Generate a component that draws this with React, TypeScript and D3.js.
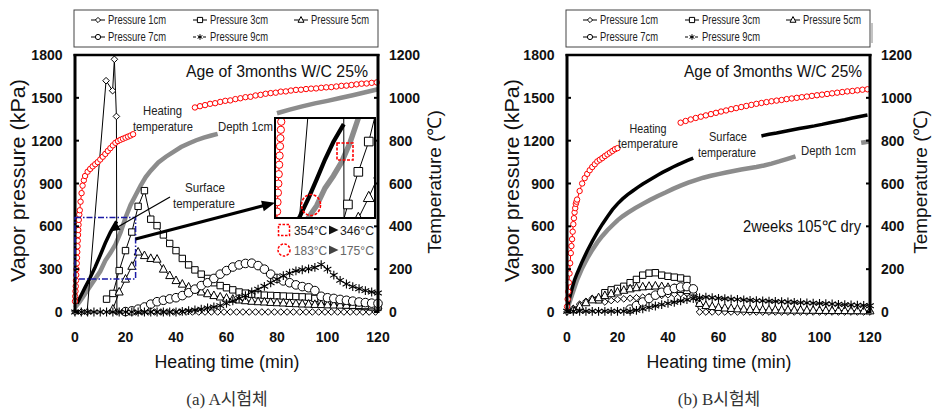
import React from 'react';
import * as d3 from 'd3';

// ---------------- data ----------------
const X_TICKS = [0, 20, 40, 60, 80, 100, 120];
const P_TICKS = [0, 300, 600, 900, 1200, 1500, 1800];
const T_TICKS = [0, 200, 400, 600, 800, 1000, 1200];
const SERIES_NAMES = ['Pressure 1cm', 'Pressure 3cm', 'Pressure 5cm', 'Pressure 7cm', 'Pressure 9cm'];
const INSET_T = [0, 24];
const INSET_P = [232, 661];

// common time grid of the pressure gauges (min)
const PT = [0, 2.5, 5, 7.5, 10, 12.5, 15, 17.5, 20, 22.5, 25, 27.5, 30, 32.5, 35, 37.5, 40, 42.5, 45, 47.5, 50,
  52.5, 55, 57.5, 60, 62.5, 65, 67.5, 70, 72.5, 75, 77.5, 80, 82.5, 85, 87.5, 90, 92.5, 95, 97.5, 100,
  102.5, 105, 107.5, 110, 112.5, 115, 117.5, 120];

// (a) specimen A
const A_HEAT_T = [0, 0.1, 0.2, 0.3, 0.4, 0.5, 0.6, 0.7, 0.8, 0.9, 1, 1.1, 1.2, 1.3, 1.4, 1.5, 1.7, 1.9, 2.2, 2.6, 3,
  3.5, 4, 5, 6, 7, 8, 9, 10, 11, 12, 13, 14, 15, 16, 17,
  18, 19, 20, 21, 22, 23, 35, 47.5, 49.5, 51.5, 53.5, 55.5, 57.5, 59.5, 61.5, 63.5, 65.5, 67.5, 69.5, 71.5, 73.5,
  75.5, 77.5, 79.5, 81.5, 83.5, 85.5, 87.5, 89.5, 91.5, 93.5, 95.5, 97.5, 99.5, 101.5, 103.5, 105.5, 107.5, 109.5,
  111.5, 113.5, 115.5, 117.5, 119.5];
const A_HEAT_V = [50, 73, 97, 120, 147, 173, 200, 227, 253, 280, 307, 333, 360, 383, 407, 430, 455, 475, 515, 555,
  590, 615, 635, 655, 668, 680, 690, 700, 712, 725, 738,
  752, 765, 778, 790, 798, 804, 809, 814, 819, 824, 830, null, 955, 961, 966, 972, 975, 981, 986, 988, 994, 998, 1003,
  1005, 1011, 1014, 1019, 1022, 1024, 1029, 1030, 1034, 1037, 1038, 1041, 1043, 1044, 1047, 1049, 1050, 1053, 1056,
  1057, 1060, 1063, 1066, 1067, 1070, 1072];
const A_SURF_T = [0.8, 2, 4, 6, 8, 10, 12, 14, 16.5];
const A_SURF_V = [40, 68, 115, 160, 210, 265, 322, 372, 423];
const A_DEPTH_T = [0, 2, 4, 6, 8, 10, 12, 14, 16, 18, 20, 22, 24, 26, 28, 30, 33, 36, 39, 42, 45, 48, 51, 54, 56.5, 68,
  80, 85, 90, 95, 100, 105, 110, 115, 120];
const A_DEPTH_V = [20, 50, 85, 120, 155, 190, 240, 275, 315, 370, 440, 500, 545, 590, 630, 660, 698, 725, 748, 770,
  787, 802, 814, 824, 832, null, 928, 945, 960, 974, 986, 999, 1012, 1026, 1040];
const A_P1_T = [0, 2.5, 4.8, 12.3, 14.9, 15.6, 16.4, 16.6, 19, 21.5, 24, 26.5, 29, 31.5, 34, 36.5, 39, 41.5, 44, 46.5,
  49, 51.5, 54, 56.5, 59, 61.5, 64, 66.5, 69, 71.5, 74, 76.5, 79, 81.5, 84, 86.5, 89, 91.5, 94, 96.5, 99, 101.5, 104,
  106.5, 109, 111.5, 114, 116.5, 119];
const A_P1_V = [0, 0, 0, 1620, 1550, 1770, 1370, 0, 0, 0, 0, 0, 0, 0, 0, 0, 0, 0, 0, 0, 0, 0, 0, 0, 0, 0, 0, 0, 0, 0,
  0, 0, 0, 0, 0, 0, 0, 0, 0, 0, 0, 0, 0, 0, 0, 0, 0, 0, 0];
const A_P3 = [null, null, null, null, null, 90, 130, 290, 430, 560, 740, 850, 650, 605, 540, 480, 430, 375, 330, 295,
  265, 235, 205, 185, 170, 155, 140, 132, 125, 120, 118, 116, 114, 112, 110, 108, 106, 104, 95, 80, 70, 62, 55, 50,
  46, 42, 38, 35, 32];
const A_P5 = [null, null, null, null, null, null, 20, 140, 230, 320, 420, 395, 375, 370, 300, 255, 220, 195, 175, 155,
  140, 128, 115, 105, 97, 90, 84, 79, 75, 72, 70, 67, 65, 63, 60, 58, 56, 55, 53, 52, 50, 49, 48, 47, 46, 45, 44, 43, 42];
const A_P7 = [null, null, null, null, null, null, null, null, 3, 8, 20, 35, 55, 72, 82, 92, 100, 115, 135, 160, 185,
  205, 235, 265, 290, 315, 330, 340, 342, 325, 300, 265, 235, 218, 205, 190, 178, 170, 150, 110, 100, 95, 88, 82, 76,
  70, 66, 62, 60];
const A_P9 = [0, 0, 0, 0, 0, 0, 0, 0, 0, 0, 0, 0, 0, 0, 0, 0, 0, 5, 10, 15, 20, 28, 35, 45, 60, 78, 95, 115, 140, 160,
  180, 205, 230, 255, 272, 288, 296, 302, 312, 332, 300, 258, 222, 196, 178, 163, 150, 140, 133];

// (b) specimen B
const B_HEAT_T = [0, 0.25, 0.5, 0.75, 1, 1.25, 1.5, 1.75, 2, 2.25, 2.5, 2.75, 3, 3.25, 3.5, 3.75, 4, 5, 6, 7, 8, 9, 10,
  11, 12, 13, 14, 15, 16, 17, 18, 19, 20, 32,
  45, 47, 49, 51, 53, 55, 57, 59, 61, 63, 65, 67, 69, 71, 73, 75, 77, 79, 81, 83, 85, 87, 89, 91, 93, 95, 97, 99, 101,
  103, 105, 107, 109, 111, 113, 115, 117, 119];
const B_HEAT_V = [25, 60, 95, 138, 180, 228, 275, 308, 340, 375, 410, 438, 465, 485, 505, 515, 525, 565, 600, 625,
  645, 662, 677, 690, 703, 711, 719, 728, 736, 744, 752, 760, 765, null, 884, 892, 899, 906, 912, 918, 924, 930, 936,
  941, 947, 952, 957, 962, 967, 972, 976, 980, 984, 987, 990, 994, 997, 1000, 1003, 1006, 1009, 1012, 1015, 1018, 1021,
  1024, 1027, 1030, 1032, 1035, 1038, 1040];
const B_SURF_T = [0, 1, 2, 3, 4, 6, 8, 10, 12, 14, 16, 18, 20, 22, 24, 26, 28, 30, 32, 34, 36, 38, 40, 42, 44, 46, 48,
  50, 63, 77, 80, 83, 86, 89, 92, 95, 98, 101, 104, 107, 110, 113, 116, 119];
const B_SURF_V = [10, 65, 110, 150, 180, 235, 285, 330, 372, 410, 445, 478, 505, 528, 548, 565, 582, 598, 612, 626,
  640, 653, 665, 677, 688, 699, 709, 719, null, 822, 830, 836, 843, 850, 857, 863, 869, 876, 884, 891, 898, 906, 913, 920];
const B_DEPTH_T = [0, 1, 2, 3, 4, 6, 8, 10, 12, 14, 16, 18, 20, 22, 24, 27, 30, 33, 36, 39, 42, 45, 48, 51, 54, 57, 60,
  63, 66, 69, 72, 75, 78, 81, 84, 87, 90.5, 104, 116.5, 118, 120];
const B_DEPTH_V = [10, 45, 80, 115, 150, 205, 250, 290, 325, 355, 382, 405, 428, 447, 463, 485, 505, 524, 542, 558,
  575, 590, 604, 616, 627, 636, 644, 651, 658, 665, 671, 677, 684, 693, 703, 714, 727, null, 790, 793, 797];
const B_P1 = [0, 25, 55, 75, 95, 100, 70, 80, 88, 92, 96, 100, 104, 108, 112, 116, 120, 124, 128, 130, 125, 0, 0, 0,
  0, 0, 0, 0, 0, 0, 0, 0, 0, 0, 0, 0, 0, 0, 0, 0, 0, 0, 0, 0, 0, 0, 0, 0, 0];
const B_P3 = [null, null, null, null, null, 85, 135, 155, 165, 180, 205, 228, 258, 272, 275, 258, 250, 244, 238, 228,
  null, null, null, null, null, null, null, null, null, null, null, null, null, null, null, null, null, null, null,
  null, null, null, null, null, null, null, null, null, null];
const B_P5 = [null, 15, 40, 65, 85, 100, 115, 128, 140, 152, 162, 170, 176, 180, 182, 178, 172, 165, 158, 150, 140, 60,
  45, 38, 32, 28, 25, 22, 20, 18, 17, 16, 15, 15, 14, 14, 13, 13, 12, 12, 11, 11, 10, 10, 10, 9, 9, 8, 8];
const B_P7 = [null, null, null, null, null, null, null, null, null, null, 20, 45, 70, 95, 118, 138, 152, 165, 175, 178,
  162, null, null, null, null, null, null, null, null, null, null, null, null, null, null, null, null, null, null,
  null, null, null, null, null, null, null, null, null, null];
const B_P9 = [5, 5, 5, 5, 5, 5, 5, 5, 5, 5, 5, 12, 22, 32, 42, 52, 60, 68, 78, 86, 94, 100, 104, 100, 96, 93, 90, 88,
  85, 82, 80, 78, 76, 74, 72, 70, 68, 66, 64, 62, 60, 58, 56, 54, 52, 50, 48, 46, 44];

// ---------------- helpers ----------------
type Pt = [number, number | null];
const zip = (t: number[], v: (number | null)[]): Pt[] => t.map((x, i) => [x, v[i]] as Pt);

const DATA_A = {
  heat: zip(A_HEAT_T, A_HEAT_V),
  surf: zip(A_SURF_T, A_SURF_V),
  depth: zip(A_DEPTH_T, A_DEPTH_V),
  p: [zip(A_P1_T, A_P1_V), zip(PT, A_P3), zip(PT, A_P5), zip(PT, A_P7), zip(PT, A_P9)],
};
const DATA_B = {
  heat: zip(B_HEAT_T, B_HEAT_V),
  surf: zip(B_SURF_T, B_SURF_V),
  depth: zip(B_DEPTH_T, B_DEPTH_V),
  p: [zip(PT, B_P1), zip(PT, B_P3), zip(PT, B_P5), zip(PT, B_P7), zip(PT, B_P9)],
};

const FONT = "'Liberation Sans', Arial, Helvetica, sans-serif";
const SERIF = "'Liberation Serif', 'Noto Sans CJK KR', serif";

const MARK: Record<string, (s: number) => string> = {
  diamond: s => `M0,${-s}L${s},0L0,${s}L${-s},0Z`,
  square: s => `M${-s},${-s}H${s}V${s}H${-s}Z`,
  triangle: s => `M0,${-s * 1.15}L${s},${s * 0.75}L${-s},${s * 0.75}Z`,
  circle: s => `M${s},0A${s},${s} 0 1,1 ${-s},0A${s},${s} 0 1,1 ${s},0Z`,
  asterisk: s => `M0,${-s}V${s}M${-s * 0.87},${-s * 0.5}L${s * 0.87},${s * 0.5}M${-s * 0.87},${s * 0.5}L${s * 0.87},${-s * 0.5}`,
};
const P_MARKS = ['diamond', 'square', 'triangle', 'circle', 'asterisk'];
const P_SIZES = [3.3, 3.2, 4, 4.3, 4.4];

const Txt = ({ x, y, w, size = 13, anchor = 'middle', fill = '#222', weight, family, children }: any) => (
  <text x={x} y={y} fontSize={size} textAnchor={anchor} fill={fill} fontWeight={weight} fontFamily={family}
    textLength={w} lengthAdjust={w ? 'spacingAndGlyphs' : undefined}>{children}</text>
);

function arrowHead(x1: number, y1: number, x2: number, y2: number, len: number, hw: number) {
  const dx = x2 - x1, dy = y2 - y1, L = Math.hypot(dx, dy);
  const ux = dx / L, uy = dy / L;
  const bx = x2 - ux * len, by = y2 - uy * len;
  return `${x2},${y2} ${bx - uy * hw},${by + ux * hw} ${bx + uy * hw},${by - ux * hw}`;
}

function Plot({ sx, syP, syT, d, k, mk }: any) {
  const lt = d3.line<Pt>().defined(p => p[1] != null).x(p => sx(p[0])).y(p => syT(p[1] as number));
  const lp = d3.line<Pt>().defined(p => p[1] != null).x(p => sx(p[0])).y(p => syP(p[1] as number));
  return (
    <g>
      <path d={lt(d.depth) || ''} fill="none" stroke="#8c8c8c" strokeWidth={4.5 * k} />
      <path d={lt(d.surf) || ''} fill="none" stroke="#000" strokeWidth={3.5 * k} />
      {d.p.map((s: Pt[], i: number) => (
        <g key={i}>
          <path d={lp(s) || ''} fill="none" stroke="#000" strokeWidth={1}
            strokeDasharray={i === 4 ? '3,2' : undefined} />
          {s.filter(p => p[1] != null).map((p, j) => (
            <path key={j} transform={`translate(${sx(p[0])},${syP(p[1] as number)})`}
              d={MARK[P_MARKS[i]](P_SIZES[i] * mk)} fill={i === 4 ? 'none' : '#fff'} stroke="#000"
              strokeWidth={i === 4 ? 1.1 : 1} />
          ))}
        </g>
      ))}
      <path d={lt(d.heat) || ''} fill="none" stroke="#ff0000" strokeWidth={1} />
      {d.heat.filter((p: Pt) => p[1] != null).map((p: Pt, j: number) => (
        <circle key={j} cx={sx(p[0])} cy={syT(p[1] as number)} r={2.7 * mk} fill="#fff" stroke="#ff0000" strokeWidth={1} />
      ))}
    </g>
  );
}

function Inset({ d, sx0, syP0 }: any) {
  const sx = d3.scaleLinear().domain(INSET_T).range([275, 375]);
  const syP = d3.scaleLinear().domain(INSET_P).range([218, 118]);
  const syT = d3.scaleLinear().domain(INSET_P.map(v => (v * 2) / 3)).range([218, 118]);
  const bx0 = sx0(INSET_T[0]), bx1 = sx0(INSET_T[1]);
  const by0 = syP0(INSET_P[1]), by1 = syP0(INSET_P[0]);
  return (
    <g>
      <defs>
        <clipPath id="insetClip"><rect x={275} y={118} width={100} height={100} /></clipPath>
      </defs>
      <rect x={bx0} y={by0} width={bx1 - bx0} height={by1 - by0} fill="none" stroke="#1a1aa6" strokeWidth={1.5}
        strokeDasharray="6,2,1.5,2" />
      <rect x={275} y={118} width={100} height={100} fill="#fff" />
      <g clipPath="url(#insetClip)">
        <Plot sx={sx} syP={syP} syT={syT} d={d} k={1.2} mk={1.35} />
      </g>
      <rect x={275} y={118} width={100} height={100} fill="none" stroke="#000" strokeWidth={2} />
      <rect x={337} y={143} width={16} height={17} fill="none" stroke="#ff0000" strokeWidth={1.6} strokeDasharray="3,1.5" />
      <ellipse cx={311} cy={205} rx={9.5} ry={10.5} fill="none" stroke="#ff0000" strokeWidth={1.6} strokeDasharray="3,1.5" />
      {/* arrows */}
      <line x1={bx1} y1={239} x2={265} y2={205.3} stroke="#000" strokeWidth={3} />
      <polygon points={arrowHead(bx1, 239, 275, 202.7, 13, 5.5)} fill="#000" />
      <line x1={170} y1={197} x2={116} y2={228} stroke="#000" strokeWidth={1.3} />
      <polygon points={arrowHead(170, 197, 110, 231.5, 10, 3.8)} fill="#000" />
      {/* inset legend */}
      <rect x={278.5} y={224.5} width={11} height={11} fill="none" stroke="#ff0000" strokeWidth={1.5} strokeDasharray="2.5,1.5" />
      <Txt x={294} y={235} w={33} anchor="start">354°C</Txt>
      <polygon points="329,225.5 338.5,230 329,234.5" fill="#111" />
      <Txt x={340} y={235} w={34} anchor="start">346°C</Txt>
      <circle cx={284} cy={250} r={6} fill="none" stroke="#ff0000" strokeWidth={1.5} strokeDasharray="2.5,1.5" />
      <Txt x={294} y={255} w={33} anchor="start" fill="#666">183°C</Txt>
      <polygon points="329,245.5 338.5,250 329,254.5" fill="#444" />
      <Txt x={340} y={255} w={34} anchor="start" fill="#666">175°C</Txt>
    </g>
  );
}

function LegendSym({ i, x, y }: any) {
  return (
    <g>
      <line x1={x - 17} x2={x - 3} y1={y} y2={y} stroke="#000" strokeWidth={1} strokeDasharray={i === 4 ? '3,2' : undefined} />
      <path transform={`translate(${x - 10},${y})`} d={MARK[P_MARKS[i]](i === 4 ? 2.8 : i === 2 ? 3 : 2.6)}
        fill={i === 4 ? 'none' : '#fff'} stroke="#000" strokeWidth={1} />
    </g>
  );
}

const LEG_X = [108, 210, 311, 108, 210];
const LEG_Y = [24, 24, 24, 41, 41];

function Panel({ dx, d, inset, labels, titleX, titleRX, caption, extra }: any) {
  const x = d3.scaleLinear().domain([0, 120]).range([75, 378]);
  const yP = d3.scaleLinear().domain([0, 1800]).range([312, 55]);
  const yT = d3.scaleLinear().domain([0, 1200]).range([312, 55]);
  return (
    <g transform={`translate(${dx},0)`}>
      {/* legend */}
      <rect x={74} y={10} width={304} height={37} fill="#fff" stroke="#444" strokeWidth={1} />
      {extra && <line x1={380} x2={380} y1={23} y2={43} stroke="#888" strokeWidth={1} />}
      {SERIES_NAMES.map((n, i) => (
        <g key={n}>
          <LegendSym i={i} x={LEG_X[i]} y={LEG_Y[i] - 4} />
          <Txt x={LEG_X[i]} y={LEG_Y[i]} w={58} size={12} anchor="start">{n}</Txt>
        </g>
      ))}
      {/* data */}
      <Plot sx={x} syP={yP} syT={yT} d={d} k={1} mk={1} />
      {/* frame */}
      <line x1={75} x2={75} y1={54} y2={313} stroke="#000" strokeWidth={3} />
      <line x1={378} x2={378} y1={54} y2={313} stroke="#000" strokeWidth={3} />
      <line x1={73.5} x2={379.5} y1={55} y2={55} stroke="#000" strokeWidth={2.5} />
      {P_TICKS.map(v => <line key={v} x1={75} x2={79} y1={yP(v)} y2={yP(v)} stroke="#000" strokeWidth={2} />)}
      {T_TICKS.map(v => <line key={v} x1={374} x2={378} y1={yT(v)} y2={yT(v)} stroke="#000" strokeWidth={2} />)}
      {/* tick labels */}
      {P_TICKS.map(v => <text key={v} x={62.5} y={yP(v)} dy="0.36em" textAnchor="end" fontSize={14} fontWeight="bold" fill="#111">{v}</text>)}
      {T_TICKS.map(v => <text key={v} x={389} y={yT(v)} dy="0.36em" textAnchor="start" fontSize={14} fontWeight="bold" fill="#111">{v}</text>)}
      {X_TICKS.map(v => <text key={v} x={x(v)} y={342} textAnchor="middle" fontSize={14} fontWeight="bold" fill="#111">{v}</text>)}
      {/* annotations */}
      {labels.map((l: any, i: number) => (
        <Txt key={i} x={l.x} y={l.y} w={l.w} size={l.size || 13} anchor={l.anchor || 'middle'} fill={l.fill || '#222'}>{l.text}</Txt>
      ))}
      {inset && <Inset d={d} sx0={x} syP0={yP} />}
      {/* titles */}
      <text transform={`translate(${titleX},180.5) rotate(-90)`} textAnchor="middle" dominantBaseline="central"
        fontSize={20} textLength={203} lengthAdjust="spacingAndGlyphs" fill="#111">Vapor pressure (kPa)</text>
      <text transform={`translate(${titleRX},182) rotate(-90)`} textAnchor="middle" dominantBaseline="central"
        fontSize={19} fill="#111">Temperature (℃)</text>
      <Txt x={227} y={368} w={145} size={18} fill="#111">Heating time (min)</Txt>
      <text x={227} y={405} textAnchor="middle" fontSize={17} fontFamily={SERIF} fill="#333">{caption}</text>
    </g>
  );
}

const LABELS_A = [
  { text: 'Age of 3months  W/C 25%', x: 368, y: 77, w: 182, size: 16, anchor: 'end', fill: '#111' },
  { text: 'Heating', x: 162.5, y: 115, w: 39 },
  { text: 'temperature', x: 163, y: 130.5, w: 60 },
  { text: 'Depth 1cm', x: 245.5, y: 131, w: 55 },
  { text: 'Surface', x: 205, y: 192, w: 40 },
  { text: 'temperature', x: 204, y: 208, w: 62 },
];
const LABELS_B = [
  { text: 'Age of 3months  W/C 25%', x: 370, y: 77, w: 178, size: 16, anchor: 'end', fill: '#111' },
  { text: 'Heating', x: 156, y: 133, w: 37 },
  { text: 'temperature', x: 156, y: 148, w: 60 },
  { text: 'Surface', x: 236, y: 140.5, w: 38 },
  { text: 'temperature', x: 235, y: 156.5, w: 58 },
  { text: 'Depth 1cm', x: 336.5, y: 155, w: 55 },
  { text: '2weeks 105℃ dry', x: 369, y: 232, w: 118, size: 16, anchor: 'end', fill: '#111' },
];

export default function App() {
  return (
    <svg width={933} height={415} viewBox="0 0 933 415" fontFamily={FONT}
      style={{ position: 'absolute', left: 0, top: 0, background: '#fff' }}>
      <rect width={933} height={415} fill="#fff" />
      <Panel dx={0} d={DATA_A} inset labels={LABELS_A} titleX={17.5} titleRX={434} caption="(a) A시험체" />
      <Panel dx={492} d={DATA_B} labels={LABELS_B} titleX={20} titleRX={428} caption="(b) B시험체" extra />
    </svg>
  );
}
